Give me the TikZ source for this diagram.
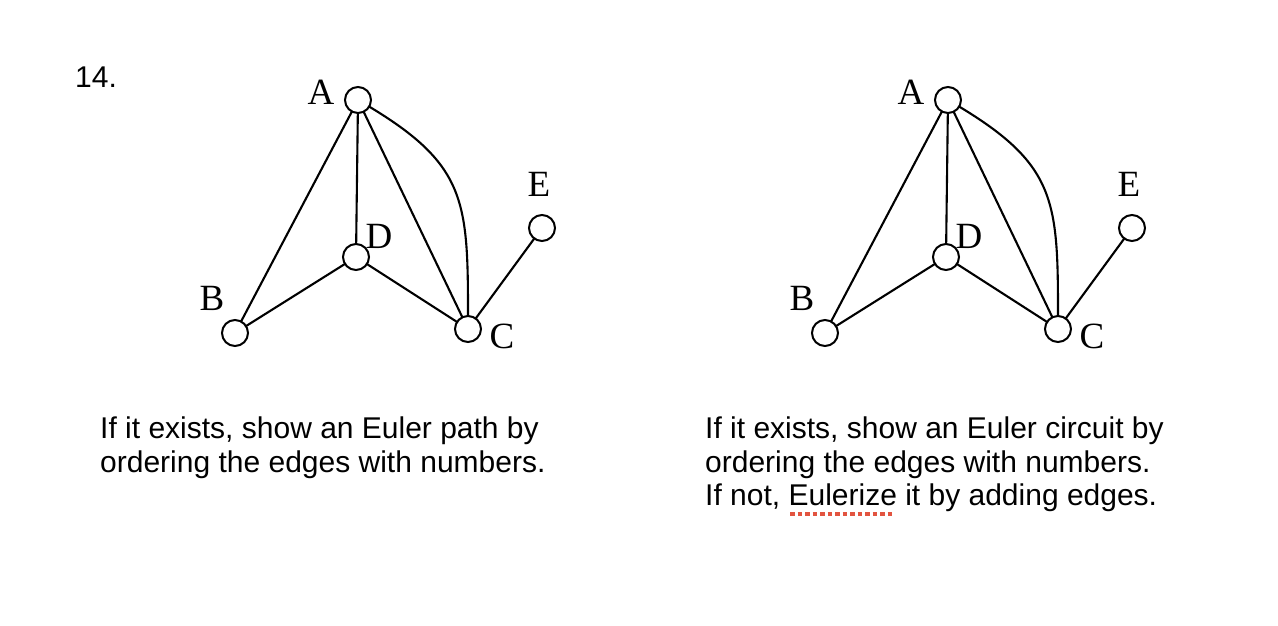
\documentclass[tikz,border=0pt]{standalone}
\usepackage{fontspec}
\setmainfont{Liberation Serif}
\newfontfamily\helv{Liberation Sans}
\usetikzlibrary{positioning}

\begin{document}
\begin{tikzpicture}[x=1pt,y=-1pt,
  vtx/.style={circle,draw,fill=white,line width=2pt,inner sep=0pt,minimum size=26pt},
  lbl/.style={inner sep=0pt,font=\fontsize{37}{37}\selectfont},
  edge/.style={line width=2.1pt},
  txt/.style={inner sep=0pt,anchor=base west,font=\helv\fontsize{30}{34}\selectfont},
  squig/.style={line width=3.5pt,dash pattern=on 4.5pt off 3pt,color={rgb,255:red,226;green,84;blue,64}}
]
  \useasboundingbox (0,0) rectangle (1278,626);
  \node[txt] (num) at (75,88) {14.};
  \foreach \g/\dx in {l/0,r/590}{
    \begin{scope}[xshift=\dx]
      \draw[edge] (358,100) -- (235,333);
      \draw[edge] (358,100) -- (356,257);
      \draw[edge] (358,100) -- (468,329);
      \draw[edge] (358,100) to[out=-30,in=90,looseness=1.3] (468,329);
      \draw[edge] (356,257) -- (235,333);
      \draw[edge] (356,257) -- (468,329);
      \draw[edge] (542,228) -- (468,329);
      \node[vtx] (A\g) at (358,100) {};
      \node[vtx] (B\g) at (235,333) {};
      \node[vtx] (C\g) at (468,329) {};
      \node[vtx] (D\g) at (356,257) {};
      \node[vtx] (E\g) at (542,228) {};
      \node[lbl] (lA\g) at (321,92) {A};
      \node[lbl] (lB\g) at (212,298) {B};
      \node[lbl] (lC\g) at (502,336) {C};
      \node[lbl] (lD\g) at (379,236) {D};
      \node[lbl] (lE\g) at (539,184) {E};
    \end{scope}
  }
  \node[txt] (t1) at (100,438) {If it exists, show an Euler path by};
  \node[txt] (t2) at (100,472) {ordering the edges with numbers.};
  \node[txt] (t3) at (705,438) {If it exists, show an Euler circuit by};
  \node[txt] (t4) at (705,472) {ordering the edges with numbers.};
  \node[txt] (t5) at (705,505) {If not, Eulerize it by adding edges.};
  \draw[squig] (790,514) -- (895,514);
\end{tikzpicture}
\end{document}
